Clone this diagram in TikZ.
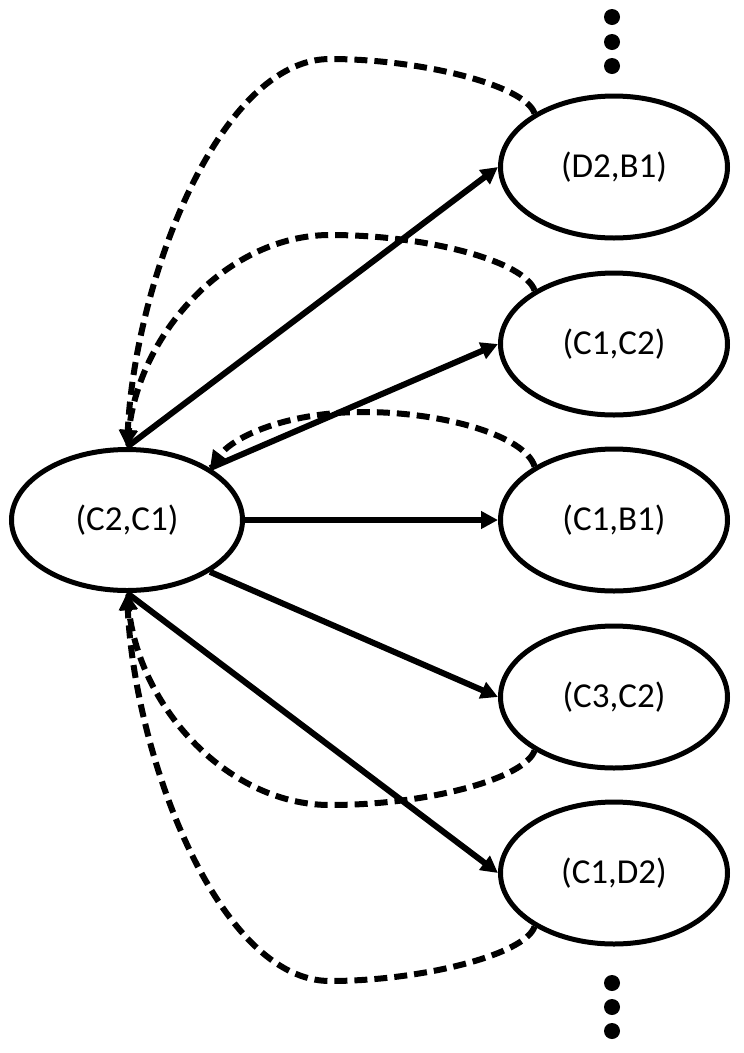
\documentclass[tikz,border=0pt]{standalone}
\usepackage{fontspec}
\setmainfont{Carlito}
\usetikzlibrary{arrows.meta,shapes.geometric}
\begin{document}
\begin{tikzpicture}[x=1pt,y=-1pt,
  state/.style={ellipse,draw,line width=5pt,inner sep=0pt,font=\fontsize{35}{40}\selectfont},
  bigstate/.style={state,minimum width=231pt,minimum height=141pt},
  smallstate/.style={state,minimum width=227pt,minimum height=142pt},
  flow/.style={line width=6pt,-{Triangle[length=17pt,width=17pt]}},
  back/.style={flow,dash pattern=on 13pt off 7pt},
  dotmark/.style={circle,fill,draw=none,inner sep=0pt,minimum size=16pt}]
\useasboundingbox (0,0) rectangle (744,1053);
\node[bigstate] (C2C1) at (127,520) {(C2,C1)};
\node[smallstate] (D2B1) at (614,167) {(D2,B1)};
\node[smallstate] (C1C2) at (614,344) {(C1,C2)};
\node[smallstate] (C1B1) at (614,520) {(C1,B1)};
\node[smallstate] (C3C2) at (614,697) {(C3,C2)};
\node[smallstate] (C1D2) at (614,873) {(C1,D2)};
% dots
\node[dotmark] (t1) at (612,17) {};
\node[dotmark] (t2) at (612,42) {};
\node[dotmark] (t3) at (612,66) {};
\node[dotmark] (b1) at (612,983) {};
\node[dotmark] (b2) at (612,1007) {};
\node[dotmark] (b3) at (612,1031) {};
% peaks of the dashed curves
\coordinate (pA) at (330,59);
\coordinate (pB) at (330,235);
\coordinate (pC) at (363,412);
\coordinate (pD) at (330,805);
\coordinate (pE) at (330,981);
% solid arrows
\draw[flow] (C2C1.north) -- (D2B1.west);
\draw[flow] (C2C1.32) -- (C1C2.west);
\draw[flow] (C2C1.east) -- (C1B1.west);
\draw[flow] (C2C1.-32) -- (C3C2.west);
\draw[flow] (C2C1.south) -- (C1D2.west);
% dashed arrows
\draw[back] (D2B1.146) .. controls (525,85) and (420,59) .. (pA)
  .. controls (220,59) and (135,280) .. (C2C1.north);
\draw[back] (C1C2.146) .. controls (525,262) and (430,235) .. (pB)
  .. controls (230,235) and (140,330) .. (C2C1.north);
\draw[back] (C1B1.146) .. controls (525,436) and (445,412) .. (pC)
  .. controls (290,412) and (235,435) .. (C2C1.32);
\draw[back] (C3C2.214) .. controls (525,778) and (430,805) .. (pD)
  .. controls (230,805) and (140,710) .. (C2C1.south);
\draw[back] (C1D2.214) .. controls (525,955) and (420,981) .. (pE)
  .. controls (220,981) and (135,760) .. (C2C1.south);
\end{tikzpicture}
\end{document}
